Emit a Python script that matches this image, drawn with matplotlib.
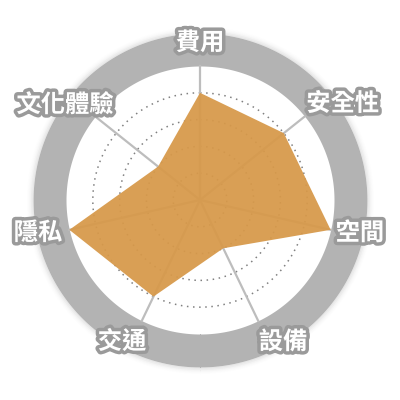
import numpy as np
import matplotlib.pyplot as plt
import matplotlib.patheffects as pe

plt.rcParams['font.family'] = ['Noto Sans CJK TC', 'DejaVu Sans']

# data
categories = ['費用', '安全性', '空間', '設備', '交通', '隱私', '文化體驗']
scores = [4, 4, 5, 2, 4, 5, 2]
max_score = 5
grid_levels = [1, 2, 3, 4]

# label placement (angle in degrees clockwise from top, radius in score units)
label_pos = [(0, 5.86), (56, 6.42), (101.7, 6.09), (149.7, 6.14),
             (208.8, 6.04), (258.5, 6.17), (305.1, 6.16)]

ring_out = 6.23
rmax = 6.5

fig = plt.figure(figsize=(4, 4), dpi=100)
px = 134 / max_score * rmax / 400
ax = fig.add_axes([0.5 - px, 0.5 - px, 2 * px, 2 * px], projection='polar')
ax.set_theta_zero_location('N')
ax.set_theta_direction(-1)
ax.set_ylim(0, rmax)
ax.set_xticks([])
ax.set_yticks([])
ax.grid(False)
ax.spines['polar'].set_visible(False)
ax.patch.set_alpha(0)

full = np.linspace(0, 2 * np.pi, 400)

# soft shadow around the ring
for k, a in enumerate([0.10, 0.07, 0.045, 0.025, 0.012]):
    ax.fill_between(full, ring_out, ring_out + 0.05 * (k + 1), color='#999999',
                    alpha=a, lw=0, zorder=0)

# grey ring
ax.fill_between(full, max_score, ring_out, color='#b3b3b3', lw=0, zorder=1)

# dotted circles
for lv in grid_levels:
    ax.plot(full, np.full_like(full, lv), ls=(0, (1, 3)), color='#808080',
            lw=1.1, zorder=2)

n = len(categories)
angles = np.arange(n) * 2 * np.pi / n

# spokes
for a in angles:
    ax.plot([a, a], [0, max_score], color='#bdbdbd', lw=1.6, zorder=2)

# data polygon
th = np.append(angles, angles[0])
vals = np.append(scores, scores[0])
ax.fill(th, vals, color='#d7994a', alpha=0.94, lw=0, zorder=3)

# labels
for name, (deg, r) in zip(categories, label_pos):
    ax.text(np.deg2rad(deg), r, name, ha='center', va='center', fontsize=17.5,
            fontweight='bold', color='white', clip_on=False, zorder=5,
            path_effects=[pe.withStroke(linewidth=5, foreground='#9a9a9a')])

fig.savefig('out.png', dpi=100, facecolor='white')
